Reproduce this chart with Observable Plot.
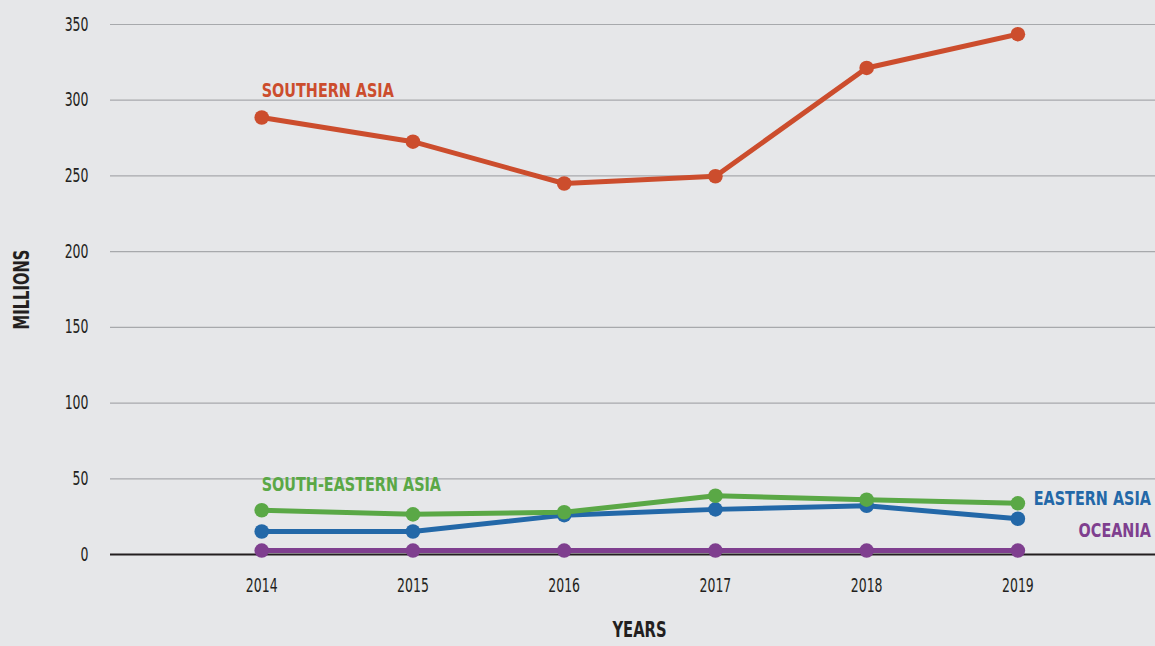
<!DOCTYPE html>
<html>
<head>
<meta charset="utf-8">
<script src="https://cdn.jsdelivr.net/npm/d3@7"></script>
<script src="https://cdn.jsdelivr.net/npm/@observablehq/plot@0.6"></script>
<style>
  html, body { margin: 0; padding: 0; background: #e6e7e9; }
  #chart { width: 1155px; height: 646px; overflow: hidden; }
</style>
</head>
<body>
<div id="chart"></div>
<script>
const years = [2014, 2015, 2016, 2017, 2018, 2019];
const seriesNames = ["EASTERN ASIA", "SOUTH-EASTERN ASIA", "OCEANIA", "SOUTHERN ASIA"];
const seriesColors = ["#2368a8", "#5aa846", "#7f3f8f", "#cc4d2d"];
const easternAsia = [15.2, 15.2, 26, 29.8, 32.2, 23.6];
const southEasternAsia = [29.2, 26.5, 27.9, 38.8, 36.2, 33.8];
const oceania = [2.6, 2.6, 2.6, 2.6, 2.6, 2.6];
const southernAsia = [288.6, 272.6, 245, 249.8, 321.3, 343.6];
const yTicks = [0, 50, 100, 150, 200, 250, 300, 350];
const xLabel = "YEARS";
const yLabel = "MILLIONS";

const valuesBySeries = [easternAsia, southEasternAsia, oceania, southernAsia];
const rows = seriesNames.flatMap((name, i) =>
  years.map((year, j) => ({ series: name, year, value: valuesBySeries[i][j] }))
);
const pick = (name, idx) => rows.filter(d => d.series === name)[idx < 0 ? years.length + idx : idx];

const font = "'DejaVu Sans Condensed', 'DejaVu Sans', sans-serif";

const chart = Plot.plot({
  width: 1155,
  height: 646,
  marginLeft: 110,
  marginRight: 0,
  marginTop: 24,
  marginBottom: 92,
  style: { background: "#e6e7e9", fontFamily: font, color: "#231f20", overflow: "visible" },
  x: { domain: [2013, 2019.91] },
  y: { domain: [0, 350] },
  color: { domain: seriesNames, range: seriesColors },
  marks: [
    Plot.gridY(yTicks.filter(t => t > 0), { stroke: "#a7a9ac", strokeOpacity: 1, strokeWidth: 1.2 }),
    Plot.ruleY([0], { stroke: "#231f20", strokeWidth: 2 }),
    Plot.axisY({ ticks: yTicks, tickSize: 0, tickPadding: 22, label: null, fontSize: 19, tickFormat: d => String(d) }),
    Plot.axisX({ ticks: years, tickSize: 0, tickPadding: 24, label: null, fontSize: 19, tickFormat: d => String(d) }),
    Plot.line(rows, { x: "year", y: "value", z: "series", stroke: "series", strokeWidth: 5, strokeLinejoin: "round" }),
    Plot.dot(rows, { x: "year", y: "value", fill: "series", r: 7.3 }),
    Plot.text([pick("SOUTHERN ASIA", 0)], { x: "year", y: "value", text: "series", fill: "series", textAnchor: "start", lineAnchor: "middle", dy: -27, fontSize: 20, fontWeight: "bold" }),
    Plot.text([pick("SOUTH-EASTERN ASIA", 0)], { x: "year", y: "value", text: "series", fill: "series", textAnchor: "start", lineAnchor: "middle", dy: -26, fontSize: 20, fontWeight: "bold" }),
    Plot.text([pick("EASTERN ASIA", -1)], { x: "year", y: "value", text: "series", fill: "series", textAnchor: "end", lineAnchor: "middle", dx: 133, dy: -20, fontSize: 20, fontWeight: "bold" }),
    Plot.text([pick("OCEANIA", -1)], { x: "year", y: "value", text: "series", fill: "series", textAnchor: "end", lineAnchor: "middle", dx: 133, dy: -19.5, fontSize: 20, fontWeight: "bold" }),
    Plot.text([yLabel], { frameAnchor: "left", text: d => d, rotate: -90, textAnchor: "middle", lineAnchor: "middle", dx: -88, fontSize: 21, fontWeight: "bold", fill: "#231f20" }),
    Plot.text([xLabel], { frameAnchor: "bottom", text: d => d, textAnchor: "middle", dx: 6.5, dy: 82, fontSize: 21, fontWeight: "bold", fill: "#231f20" })
  ]
});
document.getElementById("chart").appendChild(chart);

// horizontal condensing (mimics the condensed typeface of the original)
function condenseTexts(selector, factorFor) {
  chart.querySelectorAll(selector).forEach(el => {
    const w = el.getComputedTextLength();
    if (!w) return;
    el.setAttribute("textLength", (w * factorFor(el.textContent)).toFixed(2));
    el.setAttribute("lengthAdjust", "spacingAndGlyphs");
  });
}
condenseTexts('g[aria-label="y-axis tick label"] text', () => 0.73);
condenseTexts('g[aria-label="x-axis tick label"] text', () => 0.73);
condenseTexts('g[aria-label="text"] text', t => (t === xLabel || t === yLabel) ? 0.78 : 0.8);
</script>
</body>
</html>
